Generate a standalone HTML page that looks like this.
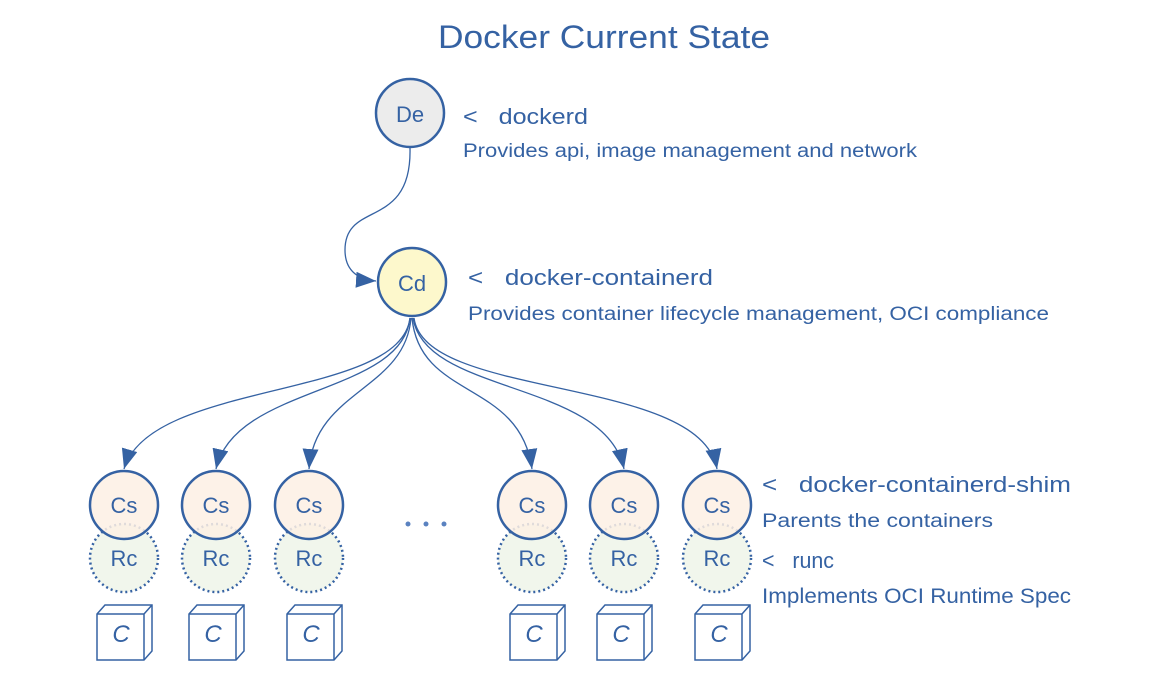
<!DOCTYPE html>
<html><head><meta charset="utf-8"><style>
html,body{margin:0;padding:0;background:#fff;}
svg{display:block;}
text{font-family:"Liberation Sans",sans-serif;fill:#3562a3;}
</style></head><body>
<svg width="1173" height="675" viewBox="0 0 1173 675" xmlns="http://www.w3.org/2000/svg">
<defs>
<marker id="ah" markerWidth="22" markerHeight="18" refX="20" refY="8" orient="auto" markerUnits="userSpaceOnUse">
<path d="M0,0 L20,8 L0,16 Z" fill="#3562a3"/>
</marker>
</defs>
<text x="438" y="48" font-size="32" textLength="332" lengthAdjust="spacingAndGlyphs">Docker Current State</text>

<path d="M410,148 C412,230 345,200 345,250 C345,272 360,280 376,281" fill="none" stroke="#3562a3" stroke-width="1.3" marker-end="url(#ah)"/>

<g fill="none" stroke="#3562a3" stroke-width="1.3" marker-end="url(#ah)">
<path d="M410,318 C400,400 150,380 124,469"/>
<path d="M410,318 C402,395 235,385 216,469"/>
<path d="M411,318 C405,390 315,390 309,469"/>
<path d="M412,318 C420,400 520,380 532,469"/>
<path d="M413,318 C425,395 605,380 624,469"/>
<path d="M414,318 C425,400 700,375 717,469"/>
</g>

<circle cx="410" cy="113" r="34" fill="#ececec" stroke="#3562a3" stroke-width="2.5"/>
<text x="410" y="122" font-size="22" text-anchor="middle">De</text>
<circle cx="412" cy="282" r="34" fill="#fdf8cc" stroke="#3562a3" stroke-width="2.5"/>
<text x="412" y="291" font-size="22" text-anchor="middle">Cd</text>

<g>
<circle cx="124" cy="558" r="34" fill="#f1f6ec" stroke="#3562a3" stroke-width="2.5" stroke-dasharray="2 3"/>
<circle cx="216" cy="558" r="34" fill="#f1f6ec" stroke="#3562a3" stroke-width="2.5" stroke-dasharray="2 3"/>
<circle cx="309" cy="558" r="34" fill="#f1f6ec" stroke="#3562a3" stroke-width="2.5" stroke-dasharray="2 3"/>
<circle cx="532" cy="558" r="34" fill="#f1f6ec" stroke="#3562a3" stroke-width="2.5" stroke-dasharray="2 3"/>
<circle cx="624" cy="558" r="34" fill="#f1f6ec" stroke="#3562a3" stroke-width="2.5" stroke-dasharray="2 3"/>
<circle cx="717" cy="558" r="34" fill="#f1f6ec" stroke="#3562a3" stroke-width="2.5" stroke-dasharray="2 3"/>
</g>
<g fill="#fdf0e4" fill-opacity="0.85" stroke="#3562a3" stroke-width="2.5">
<circle cx="124" cy="505" r="34"/>
<circle cx="216" cy="505" r="34"/>
<circle cx="309" cy="505" r="34"/>
<circle cx="532" cy="505" r="34"/>
<circle cx="624" cy="505" r="34"/>
<circle cx="717" cy="505" r="34"/>
</g>
<g font-size="22" text-anchor="middle">
<text x="124" y="513">Cs</text><text x="216" y="513">Cs</text><text x="309" y="513">Cs</text>
<text x="532" y="513">Cs</text><text x="624" y="513">Cs</text><text x="717" y="513">Cs</text>
<text x="124" y="566">Rc</text><text x="216" y="566">Rc</text><text x="309" y="566">Rc</text>
<text x="532" y="566">Rc</text><text x="624" y="566">Rc</text><text x="717" y="566">Rc</text>
</g>

<g fill="#fff" stroke="#3562a3" stroke-width="1.5">
<g transform="translate(97,605)"><path d="M0,9 L8,0 L55,0 L55,46 L47,55 L0,55 Z"/><path d="M0,9 L47,9 L55,0 M47,9 L47,55" fill="none"/></g>
<g transform="translate(189,605)"><path d="M0,9 L8,0 L55,0 L55,46 L47,55 L0,55 Z"/><path d="M0,9 L47,9 L55,0 M47,9 L47,55" fill="none"/></g>
<g transform="translate(287,605)"><path d="M0,9 L8,0 L55,0 L55,46 L47,55 L0,55 Z"/><path d="M0,9 L47,9 L55,0 M47,9 L47,55" fill="none"/></g>
<g transform="translate(510,605)"><path d="M0,9 L8,0 L55,0 L55,46 L47,55 L0,55 Z"/><path d="M0,9 L47,9 L55,0 M47,9 L47,55" fill="none"/></g>
<g transform="translate(597,605)"><path d="M0,9 L8,0 L55,0 L55,46 L47,55 L0,55 Z"/><path d="M0,9 L47,9 L55,0 M47,9 L47,55" fill="none"/></g>
<g transform="translate(695,605)"><path d="M0,9 L8,0 L55,0 L55,46 L47,55 L0,55 Z"/><path d="M0,9 L47,9 L55,0 M47,9 L47,55" fill="none"/></g>
</g>
<g font-size="24" text-anchor="middle" style="fill:#5a82c0" font-style="italic">
<text x="121" y="642">C</text><text x="213" y="642">C</text><text x="311" y="642">C</text>
<text x="534" y="642">C</text><text x="621" y="642">C</text><text x="719" y="642">C</text>
</g>

<g fill="#5a82c0"><circle cx="408" cy="524" r="2.5"/><circle cx="426" cy="524" r="2.5"/><circle cx="444" cy="524" r="2.5"/></g>

<text x="463" y="124" font-size="22" textLength="125" lengthAdjust="spacingAndGlyphs">&lt;&#160;&#160;&#160;dockerd</text>
<text x="463" y="157" font-size="19" textLength="454" lengthAdjust="spacingAndGlyphs">Provides api, image management and network</text>
<text x="468" y="285" font-size="22" textLength="245" lengthAdjust="spacingAndGlyphs">&lt;&#160;&#160;&#160;docker-containerd</text>
<text x="468" y="320" font-size="19" textLength="581" lengthAdjust="spacingAndGlyphs">Provides container lifecycle management, OCI compliance</text>
<text x="762" y="492" font-size="22" textLength="309" lengthAdjust="spacingAndGlyphs">&lt;&#160;&#160;&#160;docker-containerd-shim</text>
<text x="762" y="527" font-size="19" textLength="231" lengthAdjust="spacingAndGlyphs">Parents the containers</text>
<text x="762" y="568" font-size="22" textLength="72" lengthAdjust="spacingAndGlyphs">&lt;&#160;&#160;&#160;runc</text>
<text x="762" y="603" font-size="21" textLength="309" lengthAdjust="spacingAndGlyphs">Implements OCI Runtime Spec</text>
</svg>
</body></html>
